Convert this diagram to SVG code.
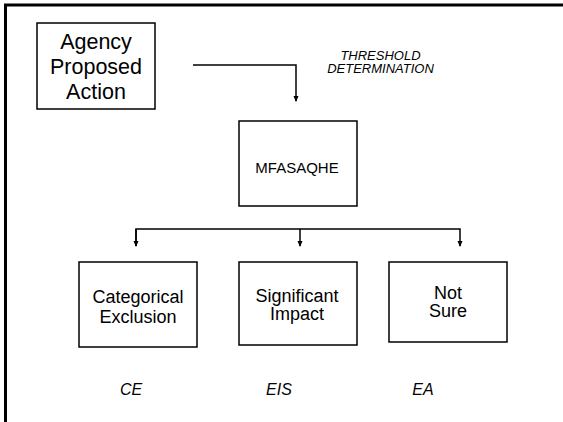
<svg xmlns="http://www.w3.org/2000/svg" width="563" height="422" viewBox="0 0 563 422">
<defs>
<style>
.box{fill:#fff;stroke:#000;stroke-width:1.5}
.t{font-family:"Liberation Sans",Arial,sans-serif;fill:#000;text-anchor:middle}
.it{font-style:italic}
.c{fill:none;stroke:#000;stroke-width:1.5}
</style>
<marker id="ah" viewBox="0 0 6 6" refX="5" refY="3" markerWidth="6" markerHeight="6" markerUnits="userSpaceOnUse" orient="auto">
<path d="M0,0.5 L6,3 L0,5.5 Z" fill="#000"/>
</marker>
</defs>
<rect x="0" y="0" width="563" height="422" fill="#fff"/>
<path d="M5.5,430 V5 H570" fill="none" stroke="#000" stroke-width="3"/>
<g id="connectors">
<path class="c" d="M193,65 H296 V101" marker-end="url(#ah)"/>
<path class="c" d="M136,246 V229 H460 V246" marker-end="url(#ah)"/>
<path class="c" d="M136,229 V246" marker-end="url(#ah)"/>
<path class="c" d="M300,229 V246" marker-end="url(#ah)"/>
</g>
<g id="label-threshold">
<text class="t it" x="380.5" y="60" font-size="13">THRESHOLD</text>
<text class="t it" x="380.5" y="73.3" font-size="13">DETERMINATION</text>
</g>
<g id="agency">
<rect class="box" x="37" y="23" width="118" height="86"/>
<text class="t" x="96" y="49" font-size="21.5">Agency</text>
<text class="t" x="96" y="74" font-size="21.5">Proposed</text>
<text class="t" x="96" y="99" font-size="21.5">Action</text>
</g>
<g id="mfasaqhe">
<rect class="box" x="239" y="121" width="118" height="85"/>
<text class="t" x="297" y="173" font-size="15">MFASAQHE</text>
</g>
<g id="categorical">
<rect class="box" x="79" y="262" width="118" height="85"/>
<text class="t" x="138" y="302.7" font-size="18">Categorical</text>
<text class="t" x="138" y="322.7" font-size="18">Exclusion</text>
</g>
<g id="significant">
<rect class="box" x="239" y="262" width="118" height="83"/>
<text class="t" x="297" y="301.7" font-size="18">Significant</text>
<text class="t" x="297" y="319.5" font-size="18">Impact</text>
</g>
<g id="notsure">
<rect class="box" x="389" y="262" width="118" height="80"/>
<text class="t" x="448" y="299" font-size="18">Not</text>
<text class="t" x="448" y="316.7" font-size="18">Sure</text>
</g>
<g id="outcomes">
<text class="t it" x="131" y="395" font-size="16">CE</text>
<text class="t it" x="279" y="395" font-size="16">EIS</text>
<text class="t it" x="423" y="395" font-size="16">EA</text>
</g>
</svg>
